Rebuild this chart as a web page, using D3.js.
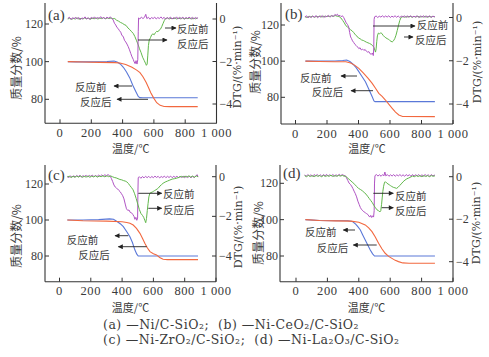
<!DOCTYPE html>
<html><head><meta charset="utf-8">
<script src="https://cdn.jsdelivr.net/npm/d3@7"></script>
<style>body{margin:0;background:#fff;} svg{display:block;} .cap{white-space:pre;}</style>
</head><body><svg id="c" width="489" height="357"></svg>
<script>
// ---------------- data ----------------
const xTicks = [0,200,400,600,800,1000];
const xTickLabels = ["0","200","400","600","800","1 000"];
const tgTicks = [80,100,120];
const dtgTicks = [0,-2,-4];
const panelLabels = ["(a)","(b)","(c)","(d)"];
const seriesNames = ["反应前","反应后"];
const xTitle = "温度/℃";
const yTitle = "质量分数/%";
const dtgTitle = "DTG/(%·min⁻¹)";
const captionLines = ["(a) —Ni/C-SiO₂;  (b) —Ni-CeO₂/C-SiO₂", "(c) —Ni-ZrO₂/C-SiO₂;  (d) —Ni-La₂O₃/C-SiO₂"];

// TG curves (mass %, vs temperature °C)
const tgBeforeA = [[50,100],[100,99.9],[200,99.9],[300,100.1],[345,100.3],[365,99.8],[385,98.8],[405,97],[425,94.5],[445,91.5],[465,87.5],[485,84],[500,81.5],[510,80.9],[530,80.8],[700,80.8],[880,80.8]];
const tgAfterA = [[50,100],[150,99.8],[250,99.6],[350,99.5],[383,99.3],[420,98.5],[460,97],[490,95.5],[511,94.2],[530,92],[550,89],[564,86.5],[580,83.5],[600,80.5],[618,78.2],[640,76.8],[665,76.2],[700,76.1],[880,76.1]];
const tgBeforeB = [[63,100],[150,100],[250,100.1],[300,100.4],[325,100.6],[345,99.8],[365,98.3],[385,96.4],[402,94.2],[420,91.8],[444,88.6],[465,84.6],[487,80.3],[498,78],[505,77.6],[600,77.6],[885,77.6]];
const tgAfterB = [[63,100],[150,99.8],[250,99.7],[320,99.7],[350,99],[375,97.8],[402,96],[430,93.5],[460,90.6],[487,87.7],[508,85],[529,82.2],[550,80.5],[571,78.5],[592,76.2],[614,73.9],[635,71.8],[656,70.2],[680,69.4],[885,69.3]];
const tgBeforeC = [[50,100],[150,100],[250,100.2],[320,100.6],[345,100.4],[370,99],[390,97.8],[408,96.3],[430,93.5],[450,90.7],[466,87.5],[482,83.3],[494,81],[503,80],[600,80],[885,80]];
const tgAfterC = [[50,100],[150,99.6],[300,99.4],[400,99],[430,98.6],[450,98.2],[471,97.2],[492,95.3],[514,92.6],[530,89.8],[546,87],[562,84.4],[578,82.4],[600,81.3],[620,80.6],[640,79.2],[662,78.2],[690,78],[885,78]];
const tgBeforeD = [[60,100],[150,99.5],[250,99.4],[330,99.4],[360,99.0],[380,97.5],[395,96],[410,94.3],[425,91.6],[441,88.8],[457,86],[473,83.3],[488,81.2],[500,80],[600,80],[885,80]];
const tgAfterD = [[60,100],[150,99.5],[250,99.3],[350,99.2],[400,98.6],[441,97.1],[463,95.5],[484,93.4],[505,90.5],[526,87],[547,84],[568,81.5],[590,79.8],[611,78.7],[632,77.6],[653,76.9],[680,76.2],[720,76],[885,76]];

// DTG curves (%/min)
const dtgPurpleA = [[50,0.03],[60,0.08],[70,-0.02],[80,0.06],[90,0.01],[100,0.09],[110,0.0],[120,0.07],[130,-0.03],[140,0.05],[150,0.02],[160,0.1],[170,0.0],[180,0.06],[190,-0.02],[200,0.08],[210,0.02],[220,0.1],[230,0.01],[240,0.07],[250,0.03],[260,0.11],[270,0.02],[280,0.08],[290,0.0],[300,0.09],[310,0.03],[320,0.1],[330,0.04],[340,-0.05],[348,-0.2],[356,-0.28],[364,-0.4],[372,-0.45],[380,-0.55],[388,-0.62],[396,-0.78],[404,-0.82],[412,-1.0],[420,-1.08],[428,-1.18],[436,-1.3],[444,-1.45],[452,-1.62],[460,-1.78],[468,-1.9],[474,-2.02],[480,-2.1],[486,-1.96],[492,-2.12],[497,-1.92],[500,-0.6],[502,0.05],[510,0.0],[520,0.09],[530,0.02],[540,0.08],[548,0.22],[555,0.02],[565,0.08],[575,-0.01],[585,0.07],[595,0.02],[605,0.09],[615,0.0],[625,0.07],[635,0.02],[645,0.1],[655,0.01],[665,0.08],[675,-0.01],[685,0.07],[695,0.02],[705,0.09],[715,0.0],[725,0.06],[735,0.02],[745,0.1],[755,0.0],[765,0.08],[775,0.02],[785,0.09],[795,0.0],[805,0.07],[815,0.02],[825,0.09],[835,0.01],[845,0.08],[855,0.0],[865,0.07],[875,0.03],[882,0.06]];
const dtgGreenA = [[50,0.0],[62,0.04],[74,-0.02],[86,0.03],[98,0.0],[110,0.05],[122,-0.01],[134,0.03],[146,0.0],[158,0.05],[170,0.01],[182,0.04],[194,-0.01],[206,0.04],[218,0.01],[230,0.05],[242,0.0],[254,0.04],[266,0.02],[278,0.06],[290,0.01],[302,0.05],[314,0.02],[326,0.05],[338,0.01],[350,0.02],[362,-0.06],[374,-0.1],[386,-0.16],[398,-0.2],[410,-0.26],[422,-0.3],[434,-0.42],[446,-0.5],[458,-0.6],[468,-0.68],[478,-0.82],[488,-1.0],[498,-1.18],[508,-1.4],[518,-1.58],[528,-1.8],[538,-1.95],[546,-2.08],[552,-2.18],[557,-2.12],[561,-1.7],[565,-1.25],[570,-1.0],[578,-0.88],[586,-0.74],[594,-0.7],[602,-0.74],[610,-0.64],[618,-0.58],[626,-0.6],[634,-0.52],[642,-0.48],[650,-0.36],[658,-0.22],[666,-0.08],[674,0.02],[686,0.05],[698,0.0],[710,0.04],[722,0.01],[734,0.05],[746,0.0],[758,0.04],[770,0.01],[782,0.05],[794,0.0],[806,0.04],[818,0.02],[830,0.05],[842,0.0],[854,0.04],[866,0.01],[878,0.04]];
const dtgPurpleB = [[60,0.02],[70,0.08],[80,-0.02],[90,0.06],[100,0.0],[110,0.07],[120,0.01],[130,0.09],[140,-0.01],[150,0.06],[160,0.02],[170,0.09],[180,0.0],[190,0.07],[200,0.03],[210,0.1],[220,0.02],[230,0.09],[240,0.05],[250,0.14],[258,0.1],[266,0.15],[274,0.07],[282,0.1],[290,0.04],[298,0.08],[306,0.0],[314,-0.12],[322,-0.25],[330,-0.32],[338,-0.45],[344,-0.7],[350,-0.9],[356,-0.98],[362,-1.08],[370,-1.16],[378,-1.25],[386,-1.3],[394,-1.36],[402,-1.44],[410,-1.4],[418,-1.5],[426,-1.46],[434,-1.52],[442,-1.48],[450,-1.56],[458,-1.6],[466,-1.58],[474,-1.68],[482,-1.7],[488,-1.64],[494,-1.76],[497,-1.4],[499,-0.1],[502,0.03],[512,0.07],[522,0.0],[532,0.06],[542,0.02],[552,0.08],[562,0.01],[572,0.07],[582,0.02],[592,0.08],[602,0.0],[612,0.06],[622,0.02],[632,0.08],[642,0.01],[652,0.07],[662,0.0],[672,0.06],[682,0.02],[692,0.08],[702,0.0],[712,0.07],[722,0.02],[732,0.08],[742,0.01],[752,0.06],[762,0.02],[772,0.08],[782,0.0],[792,0.07],[802,0.02],[812,0.08],[822,0.01],[832,0.06],[842,0.02],[852,0.08],[862,0.0],[872,0.06],[885,0.03]];
const dtgGreenB = [[60,0.04],[72,0.0],[84,0.05],[96,0.02],[108,0.06],[120,0.01],[132,0.05],[144,0.03],[156,0.07],[168,0.02],[180,0.06],[192,0.03],[204,0.07],[216,0.04],[228,0.08],[240,0.05],[252,0.09],[264,0.06],[276,0.05],[288,-0.02],[300,-0.14],[310,-0.25],[320,-0.38],[330,-0.44],[340,-0.5],[350,-0.57],[360,-0.62],[370,-0.7],[380,-0.8],[390,-0.86],[400,-0.95],[410,-0.98],[420,-1.04],[430,-1.06],[440,-1.1],[450,-1.14],[460,-1.17],[470,-1.2],[480,-1.24],[490,-1.3],[498,-1.38],[504,-1.52],[508,-1.6],[512,-1.45],[516,-1.1],[520,-0.85],[526,-0.72],[534,-0.76],[542,-0.7],[550,-0.76],[558,-0.84],[566,-0.9],[574,-0.94],[582,-0.98],[590,-1.0],[598,-1.06],[606,-1.1],[614,-1.13],[622,-1.08],[630,-0.98],[638,-0.82],[646,-0.6],[654,-0.36],[662,-0.14],[670,0.0],[680,0.05],[692,0.01],[704,0.05],[716,0.02],[728,0.06],[740,0.01],[752,0.05],[764,0.02],[776,0.06],[788,0.01],[800,0.05],[812,0.02],[824,0.06],[836,0.01],[848,0.05],[860,0.02],[872,0.05],[885,0.03]];
const dtgPurpleC = [[50,0.02],[60,-0.05],[70,0.04],[80,-0.03],[90,0.05],[100,-0.02],[110,0.06],[120,0.0],[130,0.07],[140,-0.02],[150,0.05],[160,0.01],[170,0.07],[180,-0.01],[190,0.06],[200,0.02],[210,0.08],[220,0.0],[230,0.06],[240,0.01],[250,0.08],[260,0.02],[270,0.09],[280,0.03],[290,0.1],[300,0.04],[310,0.11],[318,0.05],[325,0.02],[332,-0.1],[340,-0.25],[348,-0.42],[356,-0.52],[364,-0.58],[372,-0.62],[380,-0.7],[388,-0.76],[396,-0.86],[404,-0.96],[412,-1.12],[420,-1.38],[428,-1.62],[436,-1.7],[444,-1.68],[452,-1.8],[460,-1.82],[468,-1.9],[476,-2.0],[482,-2.15],[488,-2.05],[494,-2.2],[499,-2.08],[501,-0.8],[503,-0.05],[510,0.0],[520,-0.08],[530,0.01],[540,-0.06],[550,0.02],[560,-0.05],[570,0.02],[580,-0.06],[590,0.01],[600,-0.05],[610,0.03],[620,-0.04],[630,0.02],[640,-0.06],[650,0.01],[660,-0.04],[670,0.03],[680,-0.05],[690,0.02],[700,-0.04],[710,0.03],[720,-0.05],[730,0.02],[740,-0.04],[750,0.03],[760,-0.05],[770,0.02],[780,-0.04],[790,0.03],[800,-0.05],[810,0.02],[820,-0.04],[830,0.03],[840,-0.06],[850,0.02],[860,-0.04],[870,0.03],[880,0.1],[885,-0.02]];
const dtgGreenC = [[50,-0.02],[62,0.03],[74,-0.04],[86,0.02],[98,-0.03],[110,0.03],[122,-0.02],[134,0.04],[146,-0.03],[158,0.02],[170,-0.02],[182,0.04],[194,-0.03],[206,0.03],[218,-0.01],[230,0.04],[242,-0.02],[254,0.03],[266,0.0],[278,0.05],[290,-0.01],[302,0.05],[314,0.0],[326,0.04],[338,0.0],[350,-0.04],[362,-0.06],[374,-0.1],[386,-0.14],[398,-0.16],[410,-0.2],[420,-0.22],[430,-0.26],[440,-0.34],[450,-0.45],[460,-0.55],[470,-0.66],[480,-0.86],[490,-1.1],[500,-1.38],[510,-1.65],[520,-1.85],[530,-1.95],[538,-2.05],[545,-2.2],[551,-2.32],[556,-2.1],[561,-1.7],[566,-1.35],[571,-1.02],[577,-0.84],[584,-0.8],[592,-0.78],[600,-0.74],[608,-0.7],[616,-0.66],[624,-0.62],[632,-0.57],[642,-0.47],[652,-0.4],[662,-0.33],[675,-0.27],[690,-0.22],[705,-0.17],[720,-0.12],[735,-0.1],[750,-0.07],[765,-0.03],[778,0.02],[790,-0.03],[802,0.03],[814,-0.02],[826,0.04],[838,-0.02],[850,0.03],[862,-0.03],[874,0.04],[885,0.0]];
const dtgPurpleD = [[55,0.08],[65,0.02],[75,0.1],[85,0.03],[95,0.09],[105,0.02],[115,0.1],[125,0.04],[135,0.1],[145,0.03],[155,0.09],[165,0.02],[175,0.1],[185,0.04],[195,0.11],[205,0.03],[215,0.09],[225,0.04],[235,0.1],[245,0.03],[255,0.09],[265,0.04],[275,0.11],[285,0.05],[295,0.1],[305,0.06],[314,0.04],[322,-0.06],[330,-0.18],[338,-0.3],[346,-0.36],[354,-0.44],[362,-0.55],[370,-0.68],[378,-0.8],[386,-0.95],[394,-1.15],[402,-1.3],[410,-1.45],[418,-1.55],[426,-1.6],[434,-1.66],[442,-1.7],[450,-1.74],[458,-1.78],[464,-1.85],[470,-1.9],[476,-1.82],[482,-1.92],[488,-1.84],[494,-1.9],[498,-1.6],[500,-0.3],[503,0.05],[512,0.1],[522,0.03],[532,0.09],[542,0.02],[552,0.1],[560,0.04],[566,0.22],[572,0.04],[582,0.1],[592,0.02],[602,0.09],[612,0.03],[622,0.1],[632,0.02],[642,0.09],[652,0.04],[662,0.1],[672,0.03],[682,0.09],[692,0.02],[702,0.1],[712,0.04],[722,0.09],[732,0.02],[742,0.1],[752,0.03],[762,0.09],[772,0.04],[782,0.1],[792,0.02],[802,0.09],[812,0.03],[822,0.1],[832,0.04],[842,0.09],[852,0.02],[862,0.1],[872,0.04],[885,0.08]];
const dtgGreenD = [[55,0.05],[67,0.0],[79,0.06],[91,0.01],[103,0.05],[115,0.0],[127,0.06],[139,0.02],[151,0.05],[163,0.0],[175,0.06],[187,0.01],[199,0.05],[211,0.02],[223,0.07],[235,0.01],[247,0.05],[259,0.02],[271,0.06],[283,0.03],[295,0.06],[307,0.02],[316,0.03],[326,-0.05],[338,-0.12],[350,-0.2],[362,-0.28],[374,-0.36],[386,-0.46],[398,-0.55],[410,-0.6],[422,-0.66],[434,-0.74],[446,-0.82],[456,-0.92],[466,-1.02],[476,-1.12],[486,-1.22],[496,-1.35],[506,-1.46],[516,-1.56],[526,-1.6],[534,-1.66],[540,-1.6],[545,-1.3],[549,-1.0],[553,-0.7],[558,-0.45],[564,-0.26],[570,-0.24],[578,-0.3],[586,-0.34],[594,-0.38],[602,-0.42],[610,-0.46],[620,-0.5],[630,-0.52],[640,-0.55],[650,-0.5],[660,-0.42],[670,-0.34],[682,-0.24],[694,-0.16],[706,-0.1],[718,-0.06],[730,-0.02],[742,0.03],[754,0.0],[766,0.05],[778,0.01],[790,0.05],[802,0.0],[814,0.05],[826,0.01],[838,0.05],[850,0.0],[862,0.05],[874,0.02],[885,0.04]];

// ---------------- layout ----------------
const colors = {blue:"#5a78d8", orange:"#f2683f", purple:"#b054c4", green:"#62b84c", axis:"#333", text:"#3a3a3a"};
const serif = "'Liberation Serif','DejaVu Serif',serif";
const serif2 = "'DejaVu Serif','Liberation Serif',serif";
const cjk = "'Noto Sans CJK SC','Noto Sans CJK JP',sans-serif";

const panels = [
  {label:panelLabels[0], tg:[tgBeforeA,tgAfterA], dtg:[dtgGreenA,dtgPurpleA], dtgColors:[colors.green,colors.purple],
   xl:45, xr:216.5, x0:60, top:3, bottom:123.3, y120:24, y80:99.3, d0:19, dm4:104,
   lab:[48,15], yT:[15,68], dT:[237,67], xT:148,
   ann:[ {t:seriesNames[0], tx:177, ty:28.5, a:[165,28,176,28]},
         {t:seriesNames[1], tx:177, ty:43.5, a:[138,40,167,40]},
         {t:seriesNames[0], tx:75, ty:86, a:[132,86,114,86]},
         {t:seriesNames[1], tx:80, ty:101, a:[148,99.3,117,99.3]} ]},
  {label:panelLabels[1], tg:[tgBeforeB,tgAfterB], dtg:[dtgGreenB,dtgPurpleB], dtgColors:[colors.green,colors.purple],
   xl:281, xr:453, x0:295.5, top:3, bottom:124, y120:25, y80:97.3, d0:17.5, dm4:104,
   lab:[285,14], yT:[254,62], dT:[477,62], xT:148,
   ann:[ {t:seriesNames[0], tx:416.7, ty:24.5, a:[373,26,415,26]},
         {t:seriesNames[1], tx:415, ty:39, a:[404,37,413,37]},
         {t:seriesNames[0], tx:300, ty:77, a:[357,76,341,76]},
         {t:seriesNames[1], tx:311.7, ty:91.7, a:[373,90.7,351,90.7]} ]},
  {label:panelLabels[2], tg:[tgBeforeC,tgAfterC], dtg:[dtgPurpleC,dtgGreenC], dtgColors:[colors.purple,colors.green],
   xl:45, xr:216, x0:59.5, top:165, bottom:281.7, y120:184, y80:256, d0:176.7, dm4:256,
   lab:[48,175], yT:[15,236], dT:[238,227], xT:306.5,
   ann:[ {t:seriesNames[0], tx:163, ty:193.3, a:[138.3,193.3,161.7,193.3]},
         {t:seriesNames[1], tx:163, ty:209.3, a:[148.3,208.3,161.7,208.3]},
         {t:seriesNames[0], tx:66.7, ty:239.3, a:[128.3,235.7,115,235.7]},
         {t:seriesNames[1], tx:78.3, ty:254, a:[146.7,246.7,118.3,246.7]} ]},
  {label:panelLabels[3], tg:[tgBeforeD,tgAfterD], dtg:[dtgPurpleD,dtgGreenD], dtgColors:[colors.purple,colors.green],
   xl:280, xr:453, x0:296, top:165, bottom:281.7, y120:183.3, y80:256, d0:176.7, dm4:261.7,
   lab:[283,173], yT:[257,233], dT:[476,223], xT:306.5,
   ann:[ {t:seriesNames[0], tx:395, ty:195, a:[373.3,193.3,393.3,193.3]},
         {t:seriesNames[1], tx:395, ty:210, a:[381.7,207.7,393.3,207.7]},
         {t:seriesNames[0], tx:305, ty:231.7, a:[355,230,343.3,230]},
         {t:seriesNames[1], tx:316.7, ty:247.3, a:[376.7,245,353.3,245]} ]}
];

const svg = d3.select("#c");
svg.append("defs").append("marker")
  .attr("id","arr").attr("viewBox","0 0 10 10").attr("refX",9).attr("refY",5)
  .attr("markerWidth",6).attr("markerHeight",5).attr("markerUnits","userSpaceOnUse").attr("orient","auto")
  .append("path").attr("d","M0,0L10,5L0,10Z").attr("fill","#222");

panels.forEach(p => {
  const g = svg.append("g");
  const x = d3.scaleLinear().domain([0,1000]).range([p.x0, p.xr]);
  const yL = d3.scaleLinear().domain([80,120]).range([p.y80, p.y120]);
  const yR = d3.scaleLinear().domain([-4,0]).range([p.dm4, p.d0]);

  const lineTG = d3.line().x(d=>x(d[0])).y(d=>yL(d[1]));
  const lineDTG = d3.line().x(d=>x(d[0])).y(d=>yR(d[1]));
  g.append("path").datum(p.tg[0]).attr("d",lineTG).attr("fill","none").attr("stroke",colors.blue).attr("stroke-width",1.1);
  g.append("path").datum(p.tg[1]).attr("d",lineTG).attr("fill","none").attr("stroke",colors.orange).attr("stroke-width",1.1);
  p.dtg.forEach((s,i) => {
    g.append("path").datum(s).attr("d",lineDTG).attr("fill","none").attr("stroke",p.dtgColors[i]).attr("stroke-width",1);
  });

  g.append("line").attr("x1",p.xl).attr("x2",p.xl).attr("y1",p.top).attr("y2",p.bottom).attr("stroke",colors.axis).attr("stroke-width",1.1);
  g.append("line").attr("x1",p.xr).attr("x2",p.xr).attr("y1",p.top).attr("y2",p.bottom).attr("stroke",colors.axis).attr("stroke-width",1.1);
  g.append("line").attr("x1",p.xl).attr("x2",p.xr).attr("y1",p.bottom).attr("y2",p.bottom).attr("stroke",colors.axis).attr("stroke-width",1.1);

  xTicks.forEach((t,i) => {
    g.append("line").attr("x1",x(t)).attr("x2",x(t)).attr("y1",p.bottom).attr("y2",p.bottom-4).attr("stroke",colors.axis);
    g.append("text").attr("x",x(t)).attr("y",p.bottom+9.5).attr("text-anchor","middle").attr("dominant-baseline","central")
      .attr("font-family",serif).attr("font-size",12.5).attr("letter-spacing",0.6).attr("fill",colors.text).text(xTickLabels[i]);
  });
  tgTicks.forEach(t => {
    g.append("line").attr("x1",p.xl).attr("x2",p.xl+4).attr("y1",yL(t)).attr("y2",yL(t)).attr("stroke",colors.axis);
    g.append("text").attr("x",p.xl-2).attr("y",yL(t)).attr("text-anchor","end").attr("dominant-baseline","central")
      .attr("font-family",serif).attr("font-size",12).attr("fill",colors.text).text(t);
  });
  dtgTicks.forEach(t => {
    g.append("line").attr("x1",p.xr).attr("x2",p.xr-4).attr("y1",yR(t)).attr("y2",yR(t)).attr("stroke",colors.axis);
    g.append("text").attr("x",p.xr+3).attr("y",yR(t)).attr("text-anchor","start").attr("dominant-baseline","central")
      .attr("font-family",serif).attr("font-size",12).attr("fill",colors.text).text(t<0 ? "\u2212"+Math.abs(t) : t);
  });

  g.append("text").attr("x",(p.xl+p.xr)/2).attr("y",p.xT).attr("text-anchor","middle").attr("dominant-baseline","central")
    .attr("font-family",cjk).attr("font-size",11).attr("fill",colors.text).text(xTitle);
  g.append("text").attr("transform",`translate(${p.yT[0]},${p.yT[1]}) rotate(-90)`).attr("text-anchor","middle").attr("dominant-baseline","central")
    .attr("font-family",cjk).attr("font-size",12).attr("fill",colors.text).text(yTitle);
  g.append("text").attr("transform",`translate(${p.dT[0]},${p.dT[1]}) rotate(-90)`).attr("text-anchor","middle").attr("dominant-baseline","central")
    .attr("font-family",serif2).attr("font-size",11).attr("fill",colors.text).text(dtgTitle);

  g.append("text").attr("x",p.lab[0]).attr("y",p.lab[1]).attr("dominant-baseline","central")
    .attr("font-family",serif).attr("font-size",15).attr("fill",colors.text).text(p.label);

  p.ann.forEach(a => {
    g.append("line").attr("x1",a.a[0]).attr("y1",a.a[1]).attr("x2",a.a[2]).attr("y2",a.a[3])
      .attr("stroke","#222").attr("stroke-width",0.9).attr("marker-end","url(#arr)");
    g.append("text").attr("x",a.tx).attr("y",a.ty).attr("dominant-baseline","central")
      .attr("font-family",cjk).attr("font-size",10.5).attr("fill",colors.text).text(a.t);
  });
});

captionLines.forEach((line,li) => {
  svg.append("text").attr("class","cap").attr("x",103).attr("y",li===0?329:344)
    .attr("font-family",serif2).attr("font-size",12.5).attr("letter-spacing",0.5).attr("fill",colors.text).text(line);
});
</script>
</body></html>
